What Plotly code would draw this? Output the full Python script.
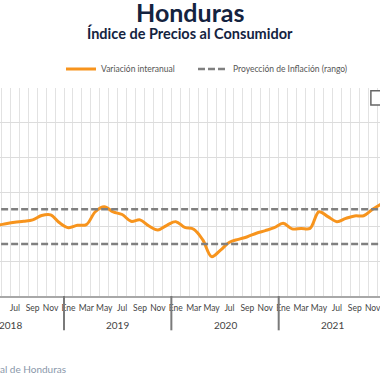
import plotly.graph_objects as go

# ---- data ----
month_names = ["Ene", "Feb", "Mar", "Abr", "May", "Jun", "Jul", "Ago", "Sep", "Oct", "Nov", "Dic"]
years = [2018, 2019, 2020, 2021]
start_index = 3  # first value = Abr 2018 (month index counted from Ene 2018)
inflacion = [
    4.05, 4.08, 4.17, 4.25, 4.31, 4.39, 4.64, 4.68, 4.22,          # Abr-Dic 2018
    3.94, 4.08, 4.12, 4.86, 5.15, 4.85, 4.70, 4.31, 4.39, 4.04, 3.81, 4.08,  # 2019
    4.29, 3.96, 3.85, 3.25, 2.27, 2.65, 3.10, 3.27, 3.42, 3.62, 3.77, 3.94,  # 2020
    4.19, 3.87, 3.90, 3.90, 4.86, 4.58, 4.29, 4.48, 4.62, 4.63, 5.00, 5.32,  # 2021
]
meta_inferior = 3.0
meta_superior = 5.0

x_idx = list(range(start_index, start_index + len(inflacion)))
n_months = len(years) * 12
x_all = [0, n_months - 1]

ORANGE = "#F7941D"
GRAY = "#808080"
NAVY = "#14233f"
FONT = "Lato"

fig = go.Figure()
fig.add_trace(go.Scatter(
    x=x_idx, y=inflacion, mode="lines", name="Variación interanual",
    line=dict(color=ORANGE, width=3, shape="spline", smoothing=1.0), legend="legend",
))
fig.add_trace(go.Scatter(
    x=x_all, y=[meta_superior] * 2, mode="lines", name="Proyección de Inflación (rango)",
    line=dict(color=GRAY, width=2.5, dash="7px,3px"), legendgroup="meta", legend="legend2",
))
fig.add_trace(go.Scatter(
    x=x_all, y=[meta_inferior] * 2, mode="lines", name="Proyección de Inflación (rango)",
    line=dict(color=GRAY, width=2.5, dash="7px,3px"), legendgroup="meta", showlegend=False,
    legend="legend2",
))

tickvals = [i for i in range(n_months) if i % 2 == 0]
ticktext = [month_names[i % 12] for i in tickvals]

px_per_month = 107.35 / 12
left = 11.5 - 64.0 / px_per_month
right = left + 380 / px_per_month

shapes = []
for k in range(1, len(years) + 1):
    b = k * 12 - 0.5
    shapes.append(dict(type="line", xref="x", yref="paper", x0=b, x1=b, y0=0, y1=-0.165,
                       line=dict(color="#7a7a7a", width=2)))

annotations = [
    dict(text="<b>Honduras</b>", x=0.5, y=1.364, xref="paper", yref="paper", showarrow=False,
         font=dict(family=FONT, size=25, color=NAVY), xanchor="center", yanchor="middle"),
    dict(text="<b>Índice de Precios al Consumidor</b>", x=0.5, y=1.264, xref="paper", yref="paper",
         showarrow=False, font=dict(family=FONT, size=14.5, color=NAVY), xanchor="center", yanchor="middle"),
    dict(text="Fuente: Banco Central de Honduras", x=68 / 380, y=-0.351, xref="paper", yref="paper",
         showarrow=False, font=dict(family=FONT, size=10, color="#8a97aa"), xanchor="right", yanchor="middle"),
]
for j, yr in enumerate(years):
    annotations.append(dict(text=str(yr), x=j * 12 + 5.5, y=-0.139, xref="x", yref="paper",
                            showarrow=False, font=dict(family=FONT, size=10, color="#444"),
                            xanchor="center", yanchor="middle"))

# export-menu button (partially visible at top right)
shapes.append(dict(type="path", xref="paper", yref="paper",
                   path="M 0.976,0.987 L 1.05,0.987 L 1.05,0.918 L 0.976,0.918 Z",
                   line=dict(color="#666", width=1.5), fillcolor="white", layer="above"))

legend_font = dict(family=FONT, size=8.5, color="#555")
fig.update_layout(
    width=380, height=380,
    margin=dict(l=0, r=0, t=88, b=84, autoexpand=False),
    paper_bgcolor="white", plot_bgcolor="white",
    font=dict(family=FONT, color="#555"),
    showlegend=True,
    hovermode=False,
    legend=dict(orientation="h", x=61 / 380, y=1.091, xanchor="left", yanchor="middle",
                font=legend_font, bgcolor="rgba(0,0,0,0)"),
    legend2=dict(orientation="h", x=193 / 380, y=1.091, xanchor="left", yanchor="middle",
                 font=legend_font, bgcolor="rgba(0,0,0,0)"),
    xaxis=dict(range=[left, right], tickmode="array", tickvals=tickvals, ticktext=ticktext,
               tickangle=0, showgrid=False, zeroline=False, showline=True,
               linecolor="#a8a8a8", linewidth=2, ticklabelstandoff=3,
               ticklabeloverflow="allow",
               ticks="", tickfont=dict(family=FONT, size=8.5, color="#444"),
               minor=dict(tickmode="linear", tick0=0.5, dtick=1, showgrid=True,
                          gridcolor="#e2e2e2", gridwidth=1, ticks="")),
    yaxis=dict(range=[0, 12], dtick=2, showgrid=True, gridcolor="#dcdcdc", gridwidth=1,
               zeroline=False, showticklabels=False, ticks=""),
    shapes=shapes,
    annotations=annotations,
)

fig.write_html("out.html", config={"displayModeBar": False},
               post_script="document.body.style.margin='0px';")
